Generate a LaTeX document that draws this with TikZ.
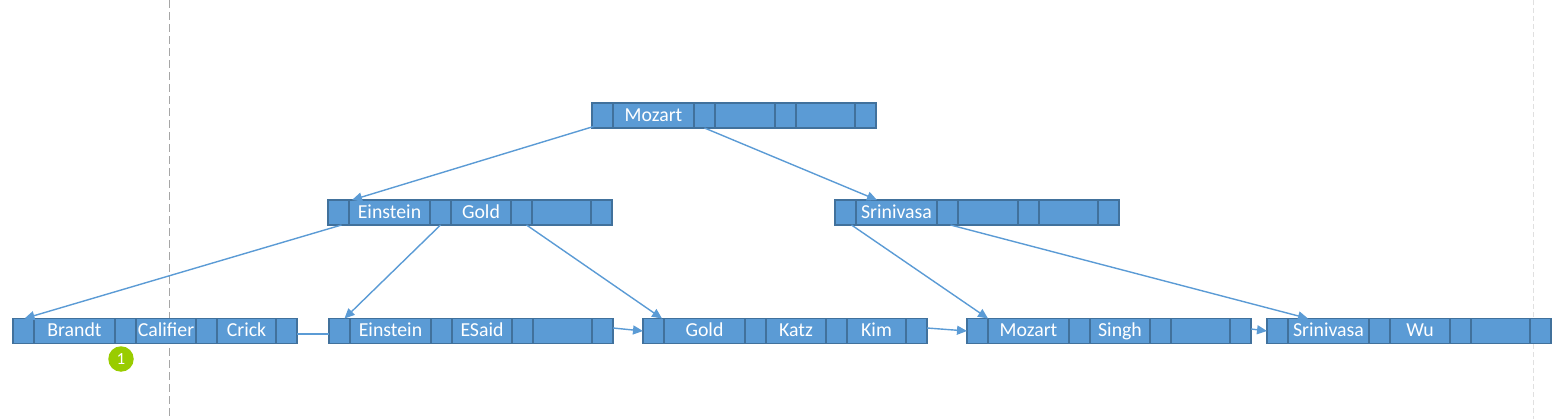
\documentclass[tikz,border=0pt]{standalone}
\usepackage{fontspec}
\setmainfont{Carlito}
\usetikzlibrary{arrows.meta,calc}
\definecolor{cellfill}{HTML}{5B9BD5}
\definecolor{celldraw}{HTML}{41719C}
\definecolor{linkblue}{HTML}{5B9BD5}
\definecolor{badgegreen}{HTML}{99CC00}
\tikzset{
  cell/.style={draw=celldraw, fill=cellfill, line width=1.6pt, inner sep=0pt, outer sep=0pt,
    minimum height=25pt, text=white, text height=14.4pt, text depth=3pt,
    font=\fontsize{19.8}{20}\selectfont, anchor=north west},
  ptr/.style={draw=linkblue, line width=1.4pt, -{Triangle[length=10pt,width=9pt]}},
  plainlink/.style={draw=linkblue, line width=1.4pt},
  guide/.style={draw=black!35, line width=1pt, dash pattern=on 8pt off 4pt},
  faintguide/.style={draw=black!12, line width=1pt, dash pattern=on 5pt off 3pt},
  badge/.style={circle, fill=badgegreen, inner sep=0pt, minimum size=25.5pt, text=white,
    font=\fontsize{17}{17}\selectfont}
}
\newcommand{\bpkeynode}[5]{%
  \node[cell, minimum width=21pt] (#1-0) at (#2,#3) {};
  \node[cell, minimum width=81pt] (#1-1) at (#1-0.north east) {#4};
  \node[cell, minimum width=21pt] (#1-2) at (#1-1.north east) {};
  \node[cell, minimum width=60pt] (#1-3) at (#1-2.north east) {#5};
  \node[cell, minimum width=21pt] (#1-4) at (#1-3.north east) {};
  \node[cell, minimum width=59pt] (#1-5) at (#1-4.north east) {};
  \node[cell, minimum width=21pt] (#1-6) at (#1-5.north east) {};
}
\newcommand{\bpleafnode}[6]{%
  \node[cell, minimum width=21pt] (#1-0) at (#2,#3) {};
  \node[cell, minimum width=81pt] (#1-1) at (#1-0.north east) {#4};
  \node[cell, minimum width=21pt] (#1-2) at (#1-1.north east) {};
  \node[cell, minimum width=60pt] (#1-3) at (#1-2.north east) {#5};
  \node[cell, minimum width=21pt] (#1-4) at (#1-3.north east) {};
  \node[cell, minimum width=59pt] (#1-5) at (#1-4.north east) {#6};
  \node[cell, minimum width=21pt] (#1-6) at (#1-5.north east) {};
}
\begin{document}
\begin{tikzpicture}[x=1pt,y=-1pt]
\useasboundingbox (0,0) rectangle (1557,419);
% guide lines
\coordinate (gtop) at (169,0);
\coordinate (gbot) at (169,419);
\draw[guide] (gtop) -- (gbot);
\coordinate (ftop) at (1533,0);
\coordinate (fbot) at (1533,419);
\draw[faintguide] (ftop) -- (fbot);
% root
\bpkeynode{m}{592}{103}{Mozart}{}
% internal
\bpkeynode{eg}{328}{200}{Einstein}{Gold}
\bpkeynode{sr}{835}{200}{Srinivasa}{}
% leaves
\bpleafnode{la}{13}{318.5}{Brandt}{Califier}{Crick}
\bpleafnode{lb}{329}{318.5}{Einstein}{ESaid}{}
\bpleafnode{lc}{643}{318.5}{Gold}{Katz}{Kim}
\bpleafnode{ld}{967}{318.5}{Mozart}{Singh}{}
\bpleafnode{le}{1267}{318.5}{Srinivasa}{Wu}{}
% badge
\node[badge] (one) at (121,359) {1};
% tree pointers
\draw[ptr] ($(m-0.south)+(-4,-3)$) -- ($(eg-1.north west)+(3,0)$);
\draw[ptr] (m-2.south) -- ($(sr-1.north west)+(21,0)$);
\draw[ptr] ($(eg-0.south)+(3,0)$) -- ($(la-0.north)+(1,0)$);
\draw[ptr] (eg-2.south) -- ($(lb-0.north)+(5,0)$);
\draw[ptr] ($(eg-4.south)+(5,0)$) -- ($(lc-0.north east)+(-2,0)$);
\draw[ptr] ($(sr-0.south)+(6,0)$) -- (ld-0.north east);
\draw[ptr] ($(sr-2.south)+(3,0)$) -- ($(le-1.north west)+(20,0)$);
% leaf chain
\draw[plainlink] ($(la-6.east)+(0,3)$) -- ($(lb-0.west)+(0,3)$);
\draw[ptr] ($(lb-6.east)+(0,-3)$) -- (lc-0.west);
\draw[ptr] ($(lc-6.east)+(0,-3)$) -- (ld-0.west);
\draw[ptr] ($(ld-6.east)+(0,-2)$) -- (le-0.west);
\end{tikzpicture}
\end{document}
